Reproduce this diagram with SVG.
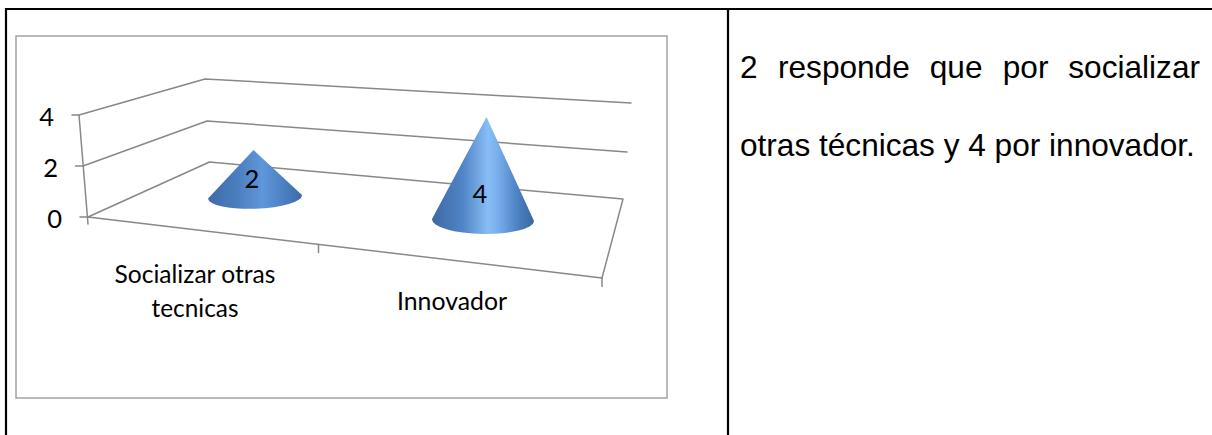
<svg xmlns="http://www.w3.org/2000/svg" width="1212" height="435" viewBox="0 0 1212 435">
<style>
.tbl{stroke:#000;stroke-width:2.2;fill:none}
.frame{stroke:#a3a3a3;stroke-width:1.5;fill:#fff}
.grid{stroke:#888;stroke-width:1.5;fill:none;stroke-linecap:round;stroke-linejoin:round}
.ax{font-family:Lato,"Open Sans",sans-serif;font-size:25.5px;fill:#000}
.body{font-family:"Liberation Sans",Arial,sans-serif;font-size:31.6px;fill:#000}
</style>
<defs>
<linearGradient id="coneA" x1="0" y1="0" x2="1" y2="0">
<stop offset="0" stop-color="#3f6ca8"/>
<stop offset="0.3" stop-color="#4a7dbe"/>
<stop offset="0.58" stop-color="#5f97da"/>
<stop offset="0.8" stop-color="#4c80c2"/>
<stop offset="1" stop-color="#3e6ba6"/>
</linearGradient>
<linearGradient id="coneB" x1="0" y1="0" x2="1" y2="0">
<stop offset="0" stop-color="#3d69a4"/>
<stop offset="0.3" stop-color="#4f84c6"/>
<stop offset="0.55" stop-color="#88bef5"/>
<stop offset="0.64" stop-color="#79b0ec"/>
<stop offset="0.85" stop-color="#4a7fc0"/>
<stop offset="1" stop-color="#3b67a2"/>
</linearGradient>
</defs>
<g id="table">
<line class="tbl" x1="5" y1="9" x2="1212" y2="9"/>
<line class="tbl" x1="6" y1="8" x2="6" y2="435"/>
<line class="tbl" x1="728" y1="8" x2="728" y2="435"/>
</g>
<g id="chart">
<rect class="frame" x="16" y="36" width="651" height="362"/>
<g id="axes" class="grid">
<polyline points="79,115 205,79 631,103"/>
<polyline points="83,166 207,121 627,152"/>
<polyline points="88,217 209.5,162 623,199 602,278 88,217"/>
<line x1="79" y1="115" x2="88" y2="224"/>
<line x1="72" y1="115" x2="79" y2="115"/>
<line x1="75.5" y1="166" x2="83" y2="166"/>
<line x1="80" y1="217" x2="88" y2="217"/>
<line x1="318.5" y1="244.5" x2="318.5" y2="252.5"/>
<line x1="602" y1="278" x2="602" y2="286.5"/>
</g>
<g id="ylabels" class="ax" text-anchor="end">
<text x="54" y="126">4</text>
<text x="58" y="177">2</text>
<text x="62" y="228">0</text>
</g>
<g id="cone-socializar">
<path d="M253.5,150 L208,198.5 A47,12 -2 0 0 302,195 Z" fill="url(#coneA)"/>
<text class="ax" x="252" y="188" text-anchor="middle">2</text>
</g>
<g id="cone-innovador">
<path d="M486.5,117 L432,219 A51,14 1 0 0 534,221 Z" fill="url(#coneB)"/>
<text class="ax" x="480" y="203" text-anchor="middle">4</text>
</g>
<g id="xlabels" class="ax" text-anchor="middle">
<text x="195" y="283" textLength="161" lengthAdjust="spacingAndGlyphs">Socializar otras</text>
<text x="195" y="316.5" textLength="87" lengthAdjust="spacingAndGlyphs">tecnicas</text>
<text x="452" y="310" textLength="110" lengthAdjust="spacingAndGlyphs">Innovador</text>
</g>
</g>
<g id="description" class="body">
<text y="78"><tspan x="740">2</tspan><tspan x="778">responde</tspan><tspan x="929.8">que</tspan><tspan x="1002.8">por</tspan><tspan x="1200" text-anchor="end">socializar</tspan></text>
<text x="740" y="156">otras técnicas y 4 por innovador.</text>
</g>
</svg>
